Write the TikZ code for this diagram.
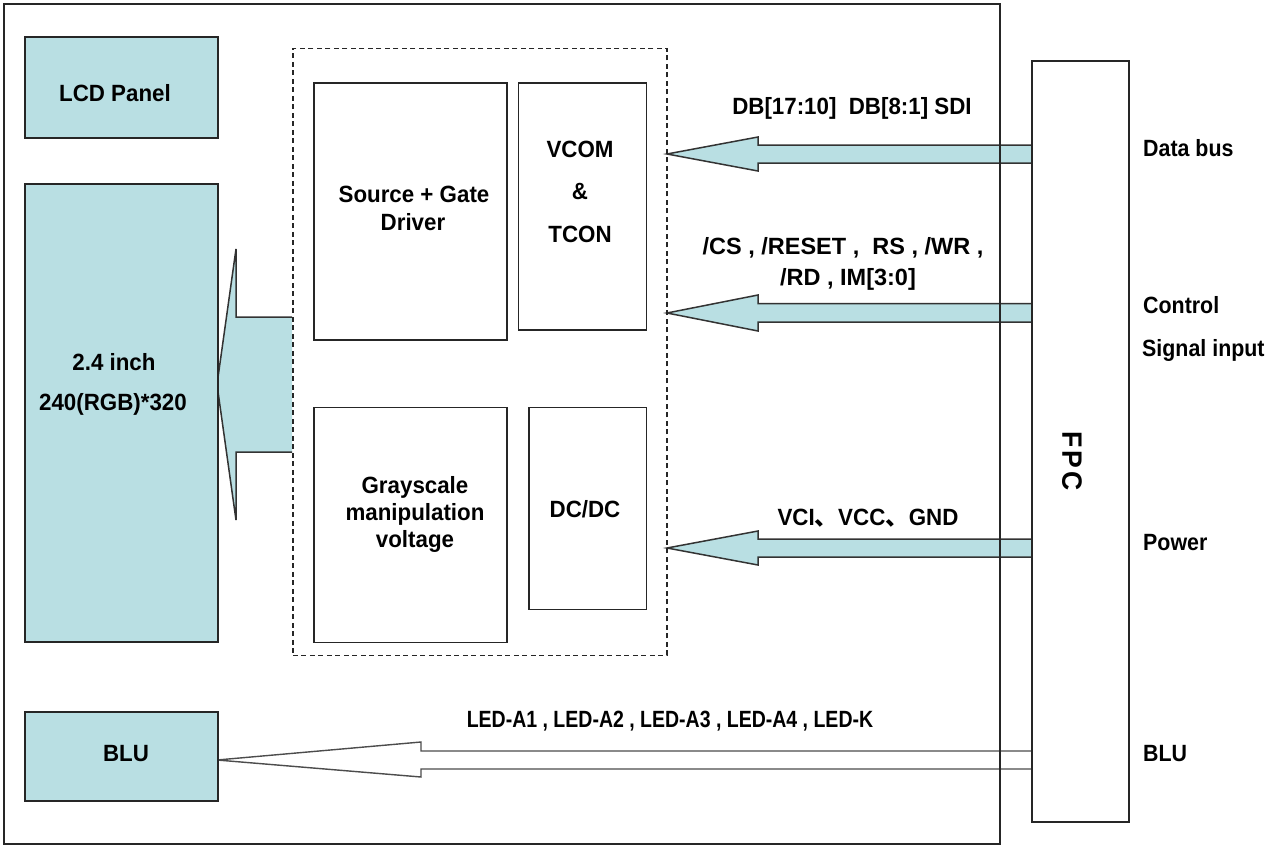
\documentclass[tikz,border=0pt]{standalone}
\usepackage{fontspec}
\setmainfont{Liberation Sans}[FakeStretch=0.95]
\newfontfamily\narrowfont{Liberation Sans}[FakeStretch=0.83]
\newfontfamily\sidefont{Liberation Sans}[FakeStretch=0.91]
\newfontfamily\widefont{Liberation Sans}[FakeStretch=1.0]
\newfontfamily\cjkfont{Noto Sans CJK SC}
\definecolor{panel}{RGB}{185,223,227}
\begin{document}
\begin{tikzpicture}[x=1pt,y=-1pt,
  every node/.style={font=\fontsize{23.5}{28}\selectfont\bfseries, inner sep=0pt},
  box/.style={draw=black!85, line width=1.8pt, anchor=north west},
  fbox/.style={box, fill=panel},
  txt/.style={anchor=base},
  lbl/.style={anchor=base west, font=\fontsize{23.5}{28}\selectfont\bfseries\sidefont},
  arr/.style={fill=panel, draw=black!80, line width=1.5pt, line join=miter},
  arrw/.style={fill=white, draw=black!70, line width=1.4pt, line join=miter},
  dashbox/.style={draw=black!85, line width=1.5pt, dash pattern=on 5pt off 3.5pt, anchor=north west}
]
\useasboundingbox (0,0) rectangle (1267,846);

% block arrows
\draw[arr] (292,317) -- (236,317) -- (236,249) -- (217,384.5) -- (236,520) -- (236,452) -- (292,452);
\draw[arr] (1031,145) -- (758,145) -- (758,137) -- (667,154) -- (758,171) -- (758,163) -- (1031,163);
\draw[arr] (1031,303.5) -- (758,303.5) -- (758,295) -- (667,313) -- (758,331) -- (758,322) -- (1031,322);
\draw[arr] (1031,539) -- (758,539) -- (758,531) -- (667,548) -- (758,565) -- (758,557) -- (1031,557);
\draw[arrw] (1031,751) -- (421,751) -- (421,742) -- (217,760) -- (421,777) -- (421,769) -- (1031,769);

% outer frame
\node[box, minimum width=996, minimum height=840] (outer) at (3,3) {};

% left column
\node[fbox, minimum width=193, minimum height=101] (lcd) at (24,36) {};
\node[fbox, minimum width=193, minimum height=458] (disp) at (24,183) {};
\node[fbox, minimum width=193, minimum height=89] (blu) at (24,711) {};
\node[txt] (lcdt) at (115,101) {LCD Panel};
\node[txt] (dispt1) at (114,370) {2.4 inch};
\node[txt] (dispt2) at (113,410) {240(RGB)*320};
\node[txt] (blut) at (126,761) {BLU};

% driver IC
\node[dashbox, minimum width=374, minimum height=607] (dash) at (292,47.5) {};
\node[box, minimum width=193, minimum height=257] (sgd) at (313,82) {};
\node[box, minimum width=128, minimum height=247] (vcom) at (517.5,82) {};
\node[box, minimum width=193, minimum height=235] (gray) at (313,406.5) {};
\node[box, minimum width=117.5, minimum height=202] (dcdc) at (528,406.5) {};
\node[txt] (sgdt1) at (414,202) {Source + Gate};
\node[txt] (sgdt2) at (413,230) {Driver};
\node[txt] (vcomt1) at (580,157) {VCOM};
\node[txt] (vcomt2) at (580,199) {\&};
\node[txt] (vcomt3) at (580,242) {TCON};
\node[txt] (grayt1) at (415,493) {Grayscale};
\node[txt] (grayt2) at (415,520) {manipulation};
\node[txt] (grayt3) at (415,547) {voltage};
\node[txt] (dcdct) at (585,517) {DC/DC};

% signal labels
\node[txt] (dbl) at (852,114) {DB[17:10]\ \ DB[8:1] SDI};
\node[txt, font=\fontsize{23.5}{28}\selectfont\bfseries\widefont] (csl1) at (843,254) {/CS , /RESET ,\ \ RS , /WR ,};
\node[txt, font=\fontsize{23.5}{28}\selectfont\bfseries\widefont] (csl2) at (848,285) {/RD , IM[3:0]};
\node[txt] (pwl) at (868,525) {VCI{\cjkfont 、}VCC{\cjkfont 、}GND};
\node[txt, font=\fontsize{23.5}{28}\selectfont\bfseries\narrowfont] (ledl) at (670,727) {LED-A1 , LED-A2 , LED-A3 , LED-A4 , LED-K};

% FPC
\node[box, minimum width=97, minimum height=761] (fpc) at (1031,60) {};
\node[rotate=-90, font=\fontsize{28}{30}\selectfont\bfseries\addfontfeature{LetterSpace=10}] (fpct) at (1072,461) {FPC};
\node[lbl] (r1) at (1143,156) {Data bus};
\node[lbl] (r2) at (1143,313) {Control};
\node[lbl] (r3) at (1142,356) {Signal input};
\node[lbl] (r4) at (1143,550) {Power};
\node[lbl] (r5) at (1143,761) {BLU};
\end{tikzpicture}
\end{document}
